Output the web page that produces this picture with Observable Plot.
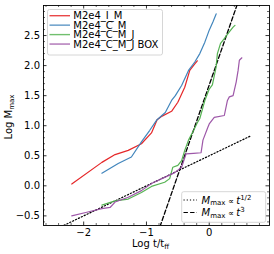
<!DOCTYPE html>
<html><head><meta charset="utf-8">
<script src="https://cdn.jsdelivr.net/npm/d3@7"></script>
<script src="https://cdn.jsdelivr.net/npm/@observablehq/plot@0.6"></script>
<style>body{margin:0;background:#fff}#c{width:274px;height:254px}</style>
</head><body><div id="c"></div>
<script>
const seriesNames = ["M2e4_I_M", "M2e4_C_M", "M2e4_C_M_J", "M2e4_C_M_J BOX"];
const seriesColors = ["#e41a1c", "#377eb8", "#4daf4a", "#984ea3"];

const redX = [-2.19,-1.71,-1.50,-1.29,-1.08,-0.92,-0.83,-0.75,-0.60,-0.50,-0.39,-0.31,-0.23,-0.19];
const redY = [0.03,0.39,0.52,0.59,0.70,0.88,1.10,1.16,1.24,1.39,1.64,1.92,2.03,2.08];

const blueX = [-1.71,-1.45,-1.24,-1.08,-0.95,-0.84,-0.70,-0.60,-0.54,-0.44,-0.33,-0.23,-0.15,-0.07,0.0,0.06,0.11];
const blueY = [0.21,0.37,0.48,0.73,0.92,1.09,1.22,1.42,1.50,1.67,1.92,2.06,2.20,2.39,2.59,2.73,2.86];

const greenX = [-1.71,-1.50,-1.29,-1.08,-0.92,-0.71,-0.63,-0.58,-0.50,-0.44,-0.39,-0.33,-0.25,-0.19,-0.15,-0.07,0.0,0.05,0.11,0.13,0.18,0.24,0.32,0.38,0.41];
const greenY = [-0.32,-0.25,-0.22,-0.11,-0.01,0.06,0.12,0.31,0.34,0.42,0.59,0.76,0.92,1.05,1.12,1.42,1.61,1.68,1.98,2.20,2.37,2.45,2.56,2.64,2.67];

const purpleX = [-2.19,-1.95,-1.71,-1.58,-1.50,-1.29,-1.08,-0.92,-0.71,-0.55,-0.44,-0.37,-0.25,-0.13,-0.10,-0.02,0.0,0.08,0.24,0.29,0.32,0.38,0.43,0.46,0.48,0.52];
const purpleY = [-0.50,-0.44,-0.38,-0.36,-0.27,-0.19,-0.08,0.04,0.14,0.22,0.31,0.53,0.54,0.55,0.76,0.98,1.03,1.14,1.17,1.42,1.48,1.50,1.73,1.92,2.09,2.13];

// reference power laws (endpoints)
const halfX = [-2.36, 0.67];
const halfY = [-0.68, 0.835];
const cubeX = [-0.785, 0.45];
const cubeY = [-0.68, 3.03];

const xTicks = [-2, -1, 0];
const xMinor = [-2.6,-2.4,-2.2,-1.8,-1.6,-1.4,-1.2,-0.8,-0.6,-0.4,-0.2,0.2,0.4,0.6,0.8];
const yTicks = [-0.5, 0.0, 0.5, 1.0, 1.5, 2.0, 2.5];
const yMinor = [-0.6,-0.4,-0.3,-0.2,-0.1,0.1,0.2,0.3,0.4,0.6,0.7,0.8,0.9,1.1,1.2,1.3,1.4,1.6,1.7,1.8,1.9,2.1,2.2,2.3,2.4,2.6,2.7,2.8,2.9];

const allX = [redX, blueX, greenX, purpleX];
const allY = [redY, blueY, greenY, purpleY];
const rows = [];
allX.forEach((xs, i) => xs.forEach((x, j) => rows.push({name: seriesNames[i], x, y: allY[i][j]})));
const halfRows = halfX.map((x, i) => ({x, y: halfY[i]}));
const cubeRows = cubeX.map((x, i) => ({x, y: cubeY[i]}));

const W = 274, H = 254, mL = 43, mR = 5, mT = 5, mB = 29;
const iw = W - mL - mR, ih = H - mT - mB;
const maj = 3.5, mnr = 2;

const plot = Plot.plot({
  width: W, height: H, marginLeft: mL, marginRight: mR, marginTop: mT, marginBottom: mB,
  x: {domain: [-2.64, 0.96]},
  y: {domain: [-0.66, 3.0]},
  color: {domain: seriesNames, range: seriesColors},
  style: {fontFamily: "DejaVu Sans", fontSize: "10px", color: "#000", background: "#fff"},
  marks: [
    Plot.line(halfRows, {x: "x", y: "y", stroke: "#000", strokeWidth: 1.2, strokeDasharray: "1.2,2", clip: true}),
    Plot.line(cubeRows, {x: "x", y: "y", stroke: "#000", strokeWidth: 1.3, strokeDasharray: "4.4,2.2", clip: true}),
    Plot.line(rows, {x: "x", y: "y", z: "name", stroke: "name", strokeWidth: 1.2, strokeOpacity: 0.95, clip: true}),
    Plot.tickX(xTicks, {x: d => d, insetTop: ih - maj, stroke: "#000", strokeWidth: 0.8}),
    Plot.tickX(xTicks, {x: d => d, insetBottom: ih - maj, stroke: "#000", strokeWidth: 0.8}),
    Plot.tickX(xMinor, {x: d => d, insetTop: ih - mnr, stroke: "#000", strokeWidth: 0.6}),
    Plot.tickX(xMinor, {x: d => d, insetBottom: ih - mnr, stroke: "#000", strokeWidth: 0.6}),
    Plot.tickY(yTicks, {y: d => d, insetRight: iw - maj, stroke: "#000", strokeWidth: 0.8}),
    Plot.tickY(yTicks, {y: d => d, insetLeft: iw - maj, stroke: "#000", strokeWidth: 0.8}),
    Plot.tickY(yMinor, {y: d => d, insetRight: iw - mnr, stroke: "#000", strokeWidth: 0.6}),
    Plot.tickY(yMinor, {y: d => d, insetLeft: iw - mnr, stroke: "#000", strokeWidth: 0.6}),
    Plot.frame({stroke: "#000", strokeWidth: 0.9}),
    Plot.axisX(xTicks, {tickSize: 0, tickPadding: 3, tickFormat: d3.format("d"), label: null}),
    Plot.axisY(yTicks, {tickSize: 0, tickPadding: 3.5, tickFormat: d3.format(".1f"), label: null})
  ]
});
document.getElementById("c").appendChild(plot);

const svg = d3.select(plot);
const g = svg.append("g").attr("font-family", "DejaVu Sans").attr("font-size", 10).attr("fill", "#000")
  .attr("text-anchor", "start");

// axis titles
const yl = g.append("text").attr("transform", "translate(11.7,117) rotate(-90)").attr("text-anchor", "middle");
yl.append("tspan").text("Log M");
yl.append("tspan").attr("font-size", 7).attr("dy", 2).text("max");
const xl = g.append("text").attr("x", 150.5).attr("y", 246.5).attr("text-anchor", "middle");
xl.append("tspan").text("Log t/t");
xl.append("tspan").attr("font-size", 7).attr("dy", 2).text("ff");

// legend 1
g.append("rect").attr("x", 47.5).attr("y", 9.5).attr("width", 115).attr("height", 45.5).attr("rx", 2)
  .attr("fill", "#fff").attr("fill-opacity", 0.8).attr("stroke", "#ccc").attr("stroke-width", 0.8);
seriesNames.forEach((n, i) => {
  const cy = 15.7 + i * 9.45;
  g.append("line").attr("x1", 49.5).attr("x2", 70).attr("y1", cy).attr("y2", cy)
    .attr("stroke", seriesColors[i]).attr("stroke-width", 1.4).attr("stroke-opacity", 0.8);
  g.append("text").attr("x", 73.3).attr("y", cy + 3.6).attr("text-anchor", "start").text(n);
});

// legend 2
g.append("rect").attr("x", 181.7).attr("y", 191.7).attr("width", 84).attr("height", 30.6).attr("rx", 2)
  .attr("fill", "#fff").attr("fill-opacity", 0.8).attr("stroke", "#ccc").attr("stroke-width", 0.8);
const leg2 = [{dash: "1.2,2", sup: "1/2"}, {dash: "4.4,2.2", sup: "3"}];
leg2.forEach((d, i) => {
  const cy = 200 + i * 12.5;
  g.append("line").attr("x1", 183.5).attr("x2", 197).attr("y1", cy).attr("y2", cy)
    .attr("stroke", "#000").attr("stroke-width", 1.2).attr("stroke-dasharray", d.dash);
  const t = g.append("text").attr("x", 201.5).attr("y", cy + 3.6).attr("text-anchor", "start");
  t.append("tspan").attr("font-style", "italic").text("M");
  t.append("tspan").attr("font-size", 7).attr("dy", 1.8).text("max");
  t.append("tspan").attr("dy", -1.8).attr("font-size", 8).text(" \u221D ");
  t.append("tspan").attr("font-style", "italic").text("t");
  t.append("tspan").attr("font-size", 7).attr("dy", -4).text(d.sup);
});
</script>
</body></html>
